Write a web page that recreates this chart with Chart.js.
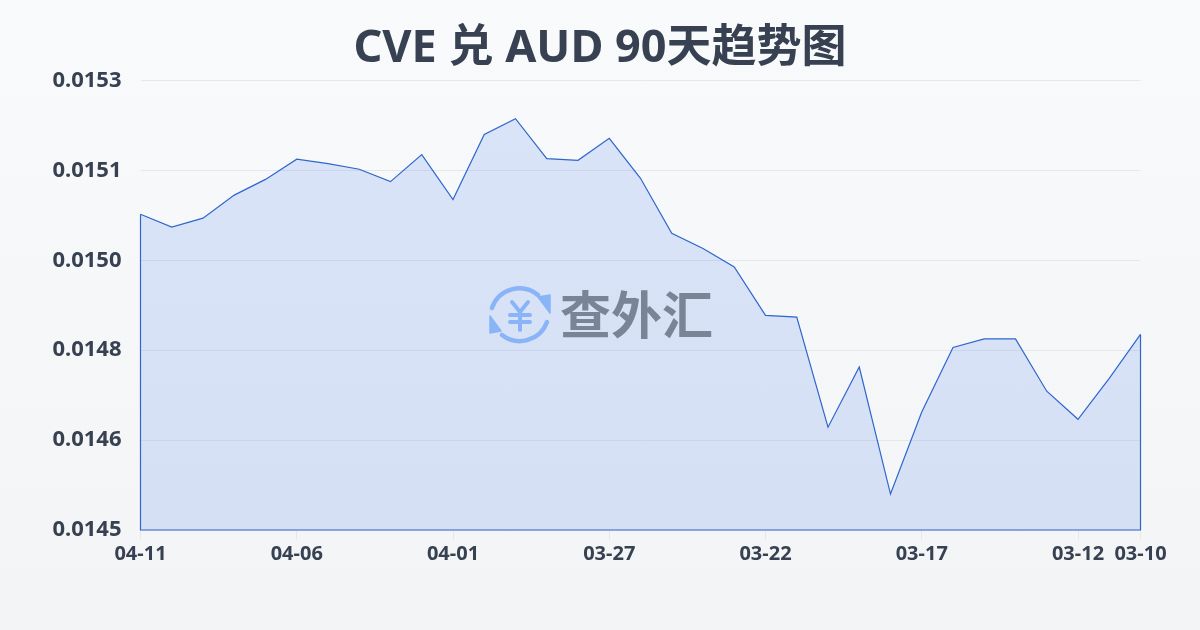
<!DOCTYPE html>
<html>
<head>
<meta charset="utf-8">
<style>
  html, body { margin: 0; padding: 0; }
  body { width: 1200px; height: 630px; overflow: hidden; position: relative;
         background: linear-gradient(180deg, #f8fafc 0%, #f3f4f6 100%); }
  #chart { position: absolute; left: 0; top: 0; }
  #title { position: absolute; left: 0; top: 15px; width: 1200px; text-align: center; color: #374151;
           font: 700 45px/60px "Noto Sans", "Noto Sans CJK SC"; white-space: pre; }
  #mark { position: absolute; left: 488px; top: 284px; width: 64px; height: 62px; }
  #markText { position: absolute; left: 560px; top: 276px; font: 700 51px/72px "Noto Sans CJK SC"; color: #7a8497; white-space: nowrap; }
</style>
<script src="https://cdn.jsdelivr.net/npm/chart.js@4/dist/chart.umd.min.js"></script>
</head>
<body>
<canvas id="chart" width="1200" height="630"></canvas>
<div id="title">CVE 兑 AUD 90天趋势图</div>
<svg id="mark" viewBox="0 0 64 62" fill="none" stroke="#8ab4f8" stroke-linecap="round" stroke-linejoin="round">
  <path d="M4 24 A29 29 0 0 1 50 11" stroke-width="4.5"/>
  <path d="M50 13 L62 11 L62 29 Z" fill="#8ab4f8" stroke-width="1.5"/>
  <path d="M59 38 A29 29 0 0 1 14 51" stroke-width="4.5"/>
  <path d="M2 32 L2 49 L13 47 Z" fill="#8ab4f8" stroke-width="1.5"/>
  <path d="M24 18 L32 28 L40 18 M32 28 V46 M22 31 H42 M22 38 H42" stroke-width="4"/>
</svg>
<div id="markText">查外汇</div>
<script>
// --- data
const dates = ['04-11','04-10','04-09','04-08','04-07','04-06','04-05','04-04','04-03','04-02','04-01',
  '03-31','03-30','03-29','03-28','03-27','03-26','03-25','03-24','03-23','03-22',
  '03-21','03-20','03-19','03-18','03-17','03-16','03-15','03-14','03-13','03-12','03-11','03-10'];
const rates = [0.015062,0.015039,0.015055,0.015096,0.015124,0.015160,0.015152,0.015142,0.015120,0.015168,0.015088,
  0.015204,0.015232,0.015161,0.015158,0.015197,0.015126,0.015028,0.015001,0.014968,0.014882,
  0.014879,0.014683,0.014790,0.014564,0.014710,0.014825,0.014840,0.014840,0.014747,0.014697,0.014770,0.014848];
const shownDates = ['04-11','04-06','04-01','03-27','03-22','03-17','03-12','03-10'];
const yTickValues = [0.0145,0.01466,0.01482,0.01498,0.01514,0.0153];
const yTickLabels = ['0.0145','0.0146','0.0148','0.0150','0.0151','0.0153'];

const LINE = '#2f66cc';
const TEXT = '#374151';
const FONT = '"Noto Sans", "Noto Sans CJK SC"';

// closes the area outline down the two sides and along the bottom
const areaOutline = {
  id: 'areaOutline',
  afterDatasetsDraw(chart) {
    const { ctx, scales: { x, y } } = chart;
    const x0 = x.getPixelForValue(0), x1 = x.getPixelForValue(rates.length - 1);
    ctx.save();
    ctx.strokeStyle = LINE;
    ctx.lineWidth = 1.2;
    ctx.beginPath();
    ctx.moveTo(x0, y.getPixelForValue(rates[0]));
    ctx.lineTo(x0, y.bottom);
    ctx.lineTo(x1, y.bottom);
    ctx.lineTo(x1, y.getPixelForValue(rates[rates.length - 1]));
    ctx.stroke();
    ctx.restore();
  }
};

new Chart(document.getElementById('chart'), {
  type: 'line',
  plugins: [areaOutline],
  data: {
    labels: dates,
    datasets: [{
      data: rates,
      borderColor: LINE,
      borderWidth: 1.2,
      backgroundColor: 'rgba(50,110,235,0.15)',
      fill: 'start',
      tension: 0,
      pointRadius: 0,
      clip: false
    }]
  },
  options: {
    responsive: false,
    animation: false,
    layout: { padding: { left: 0, right: 59.5, top: 80.5, bottom: 60 } },
    plugins: {
      legend: { display: false },
      tooltip: { enabled: false },
      title: { display: false }
    },
    scales: {
      x: {
        offset: false,
        afterBuildTicks(scale) {
          scale.ticks = scale.ticks.filter(t => shownDates.includes(dates[t.value]));
        },
        afterFit(scale) { scale.height = 40; },
        border: { display: false },
        grid: { drawOnChartArea: false, tickLength: 10, tickColor: '#e5e7eb' },
        ticks: {
          autoSkip: false, maxRotation: 0, minRotation: 0, padding: 2,
          color: TEXT,
          font: { family: FONT, size: 20, weight: '700' }
        }
      },
      y: {
        min: 0.0145,
        max: 0.0153,
        afterBuildTicks(scale) {
          scale.ticks = yTickValues.map(value => ({ value }));
        },
        afterFit(scale) { scale.width = 140.5; },
        border: { display: false },
        grid: { color: '#e5e7eb', lineWidth: 1, drawTicks: false },
        ticks: {
          padding: 19,
          color: TEXT,
          font: { family: FONT, size: 22, weight: '700' },
          callback: (v, i) => yTickLabels[i]
        }
      }
    }
  }
});
</script>
</body>
</html>
